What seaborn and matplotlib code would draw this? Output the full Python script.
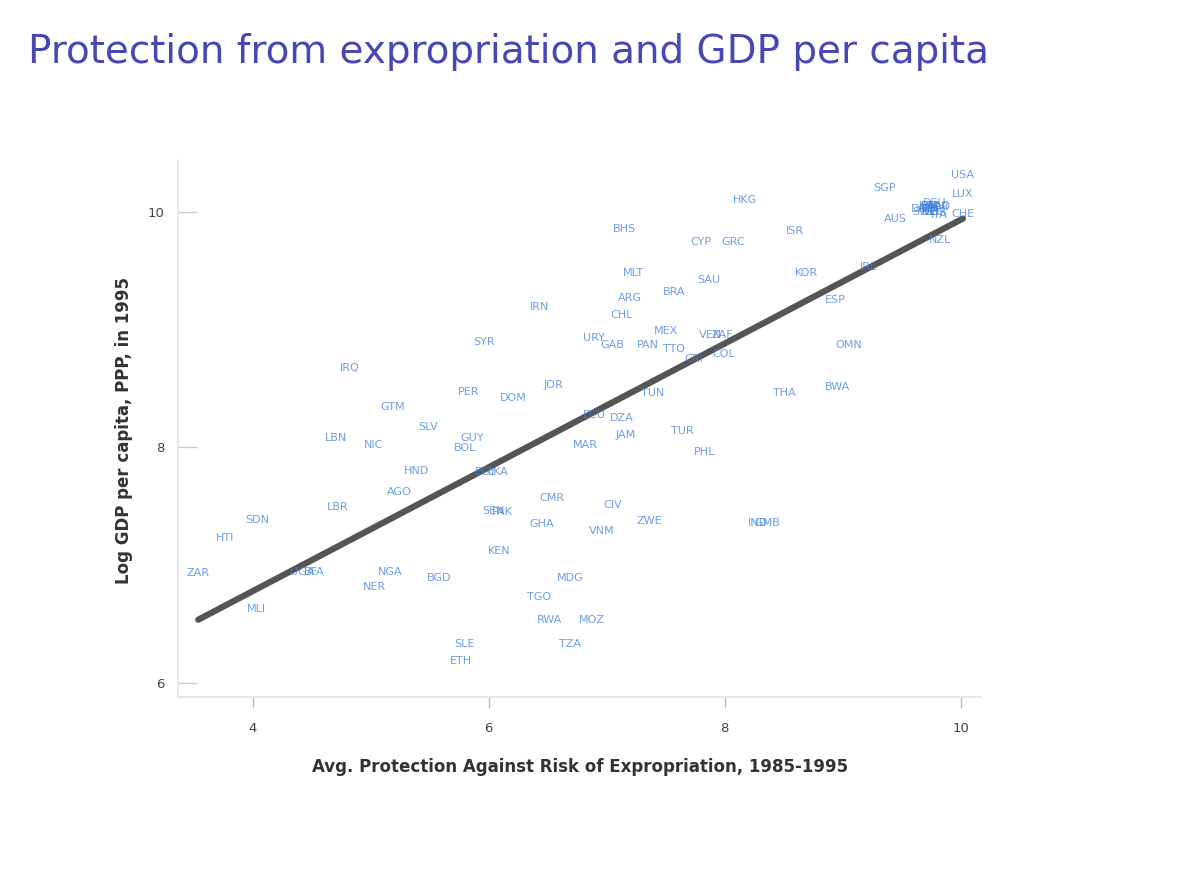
import pandas as pd
import matplotlib.pyplot as plt
import seaborn as sns

# country codes, avg. protection against expropriation risk, log GDP per capita 1995
codes = ["USA", "LUX", "CHE", "SGP", "JPN", "NOR", "BEL", "DNK", "AUS", "NZL",
         "AUT", "DEU", "FRA", "SWE", "FIN", "GBR", "NLD", "ITA",
         "HKG", "ISR", "BHS", "CYP", "GRC", "KOR", "IRL", "ESP", "OMN", "BWA",
         "THA", "MLT", "ARG", "CHL", "URY", "BRA", "SAU", "MEX", "VEN", "ZAF",
         "TTO", "CRI", "COL", "GAB", "PAN", "TUN", "DZA", "JAM", "MAR", "TUR",
         "PHL", "ECU", "IRN", "SYR", "PER", "DOM", "JOR", "IRQ", "GTM", "SLV",
         "LBN", "NIC", "GUY", "BOL", "LBR", "HND", "AGO", "EGY", "LKA", "SDN",
         "HTI", "ZAR", "UGA", "BFA", "MLI", "NGA", "NER", "BGD", "SLE", "ETH",
         "SEN", "PAK", "GHA", "CMR", "KEN", "MDG", "TGO", "RWA", "MOZ", "TZA",
         "CIV", "VNM", "ZWE", "IND", "GMB"]
avexpr = [10.02, 10.02, 10.02, 9.36, 9.72, 9.80, 9.76, 9.68, 9.45, 9.83,
          9.73, 9.78, 9.75, 9.70, 9.74, 9.79, 9.82, 9.82,
          8.17, 8.60, 7.15, 7.80, 8.07, 8.69, 9.22, 8.94, 9.05, 8.96,
          8.51, 7.23, 7.20, 7.13, 6.89, 7.57, 7.87, 7.50, 7.88, 7.98,
          7.57, 7.74, 7.99, 7.05, 7.35, 7.39, 7.13, 7.16, 6.82, 7.64,
          7.83, 6.90, 6.43, 5.96, 5.83, 6.21, 6.55, 4.82, 5.19, 5.49,
          4.71, 5.03, 5.86, 5.80, 4.72, 5.39, 5.24, 5.98, 6.08, 4.04,
          3.77, 3.54, 4.42, 4.52, 4.03, 5.17, 5.03, 5.58, 5.80, 5.77,
          6.04, 6.12, 6.45, 6.54, 6.09, 6.69, 6.43, 6.52, 6.88, 6.69,
          7.05, 6.96, 7.36, 8.28, 8.36]
logpgp95 = [10.31, 10.15, 9.98, 10.20, 10.05, 10.04, 10.00, 10.02, 9.94, 9.76,
            10.03, 10.07, 10.05, 10.00, 10.02, 10.00, 10.05, 9.97,
            10.10, 9.84, 9.85, 9.74, 9.74, 9.48, 9.53, 9.25, 8.87, 8.51,
            8.46, 9.48, 9.27, 9.12, 8.93, 9.32, 9.42, 8.99, 8.95, 8.95,
            8.83, 8.75, 8.79, 8.87, 8.87, 8.46, 8.25, 8.10, 8.02, 8.14,
            7.96, 8.27, 9.19, 8.89, 8.47, 8.42, 8.53, 8.67, 8.34, 8.17,
            8.08, 8.02, 8.08, 7.99, 7.49, 7.80, 7.62, 7.79, 7.79, 7.38,
            7.23, 6.93, 6.94, 6.94, 6.63, 6.94, 6.81, 6.89, 6.33, 6.19,
            7.46, 7.45, 7.35, 7.57, 7.12, 6.89, 6.73, 6.53, 6.53, 6.33,
            7.51, 7.29, 7.37, 7.36, 7.36]

df = pd.DataFrame({"code": codes, "avexpr": avexpr, "logpgp95": logpgp95})

sns.set_theme(style="white")
fig = plt.figure(figsize=(11.8, 8.85), dpi=100)
ax = fig.add_axes([0.151, 0.2124, 0.680, 0.607])

# fitted line (OLS through the points)
sns.regplot(data=df, x="avexpr", y="logpgp95", scatter=False, ci=None,
            truncate=True, color="#555555", line_kws={"linewidth": 4.5}, ax=ax)

# country labels centred on each point
for _, r in df.iterrows():
    ax.text(r["avexpr"], r["logpgp95"], r["code"], ha="center", va="center",
            fontsize=8, color="#3d7fd9", alpha=0.75, zorder=3)

ax.set_xlim(3.37, 10.17)
ax.set_ylim(5.88, 10.44)
ax.set_xticks([4, 6, 8, 10])
ax.set_yticks([6, 8, 10])

sns.despine(ax=ax)
for s in ["left", "bottom"]:
    ax.spines[s].set_color("#e4e4e4")
    ax.spines[s].set_linewidth(1.2)
ax.tick_params(axis="x", direction="out", length=8, width=1, color="#bbbbbb",
               labelsize=9.5, labelcolor="#444444", pad=10, bottom=True)
ax.tick_params(axis="y", direction="in", length=14, width=1, color="#cccccc",
               labelsize=9.5, labelcolor="#444444", pad=10, left=True)

ax.set_xlabel("Avg. Protection Against Risk of Expropriation, 1985-1995",
              fontsize=12, fontweight="bold", color="#333333")
ax.set_ylabel("Log GDP per capita, PPP, in 1995",
              fontsize=12, fontweight="bold", color="#333333")
ax.xaxis.set_label_coords(0.501, -0.113)
ax.yaxis.set_label_coords(-0.056, 0.497)

fig.text(0.024, 0.941, "Protection from expropriation and GDP per capita",
         fontsize=28, color="#4848b4", ha="left", va="center")

plt.savefig("out.png", dpi=100)
